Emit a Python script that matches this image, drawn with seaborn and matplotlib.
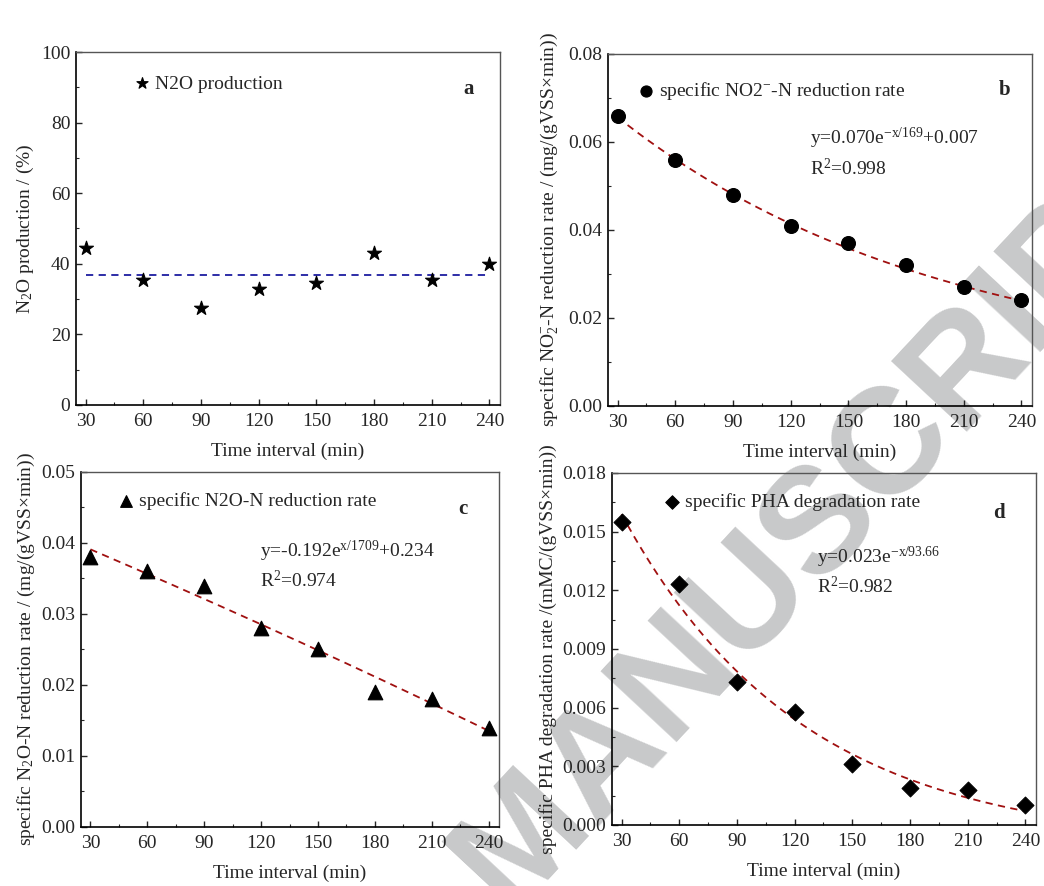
import numpy as np
import pandas as pd
import seaborn as sns
import matplotlib.pyplot as plt
from matplotlib.ticker import MultipleLocator, FormatStrFormatter

# data
time = [30, 60, 90, 120, 150, 180, 210, 240]
n2o_prod = [44.5, 35.5, 27.5, 33.0, 34.5, 43.0, 35.5, 40.0]
n2o_mean = 36.7
no2_rate = [0.066, 0.056, 0.048, 0.041, 0.037, 0.032, 0.027, 0.024]
n2o_rate = [0.038, 0.036, 0.034, 0.028, 0.025, 0.019, 0.018, 0.014]
pha_rate = [0.0155, 0.0123, 0.0073, 0.0058, 0.0031, 0.0019, 0.0018, 0.0010]

# fitted curves: y = A*exp(x/t) + c
fit_b = (0.070, -169.0, 0.007)
fit_c = (-0.192, 1709.0, 0.2345)
fit_d = (0.0234, -93.66, -0.0011)

sns.set_style("ticks")
plt.rcParams["font.family"] = ["Liberation Serif", "DejaVu Serif"]
plt.rcParams["mathtext.fontset"] = "custom"
plt.rcParams["mathtext.rm"] = "Liberation Serif"
plt.rcParams["mathtext.it"] = "Liberation Serif:italic"
plt.rcParams["font.size"] = 14

fig = plt.figure(figsize=(10.44, 8.86), dpi=100)

# watermark behind the axes
fig.text(0.46, 0.0, "MANUSCRIPT", fontsize=108, fontweight="bold",
         family="Liberation Sans", color="#c8c9ca", rotation=47,
         rotation_mode="anchor", ha="left", va="center", zorder=-1)

ax_a = fig.add_axes([0.0728, 0.5429, 0.4061, 0.3984])
ax_b = fig.add_axes([0.5824, 0.5418, 0.4061, 0.3973])
ax_c = fig.add_axes([0.0776, 0.0666, 0.4004, 0.4007])
ax_d = fig.add_axes([0.5862, 0.0689, 0.4061, 0.3973])

xfit = np.linspace(30, 240, 200)


def style_axes(ax, ymax, ystep, yminor, fmt):
    ax.set_facecolor("none")
    ax.set_xlim(25, 245.5)
    ax.set_ylim(0, ymax)
    ax.xaxis.set_major_locator(MultipleLocator(30))
    ax.xaxis.set_minor_locator(MultipleLocator(15))
    ax.yaxis.set_major_locator(MultipleLocator(ystep))
    ax.yaxis.set_minor_locator(MultipleLocator(yminor))
    ax.yaxis.set_major_formatter(FormatStrFormatter(fmt))
    ax.tick_params(which="major", direction="in", length=4, width=1, labelsize=14, pad=4)
    ax.tick_params(axis="x", which="major", pad=6)
    ax.tick_params(which="minor", direction="in", length=2, width=0.8)
    for s in ["left", "bottom"]:
        ax.spines[s].set_linewidth(1.2)
        ax.spines[s].set_color("black")
    for s in ["top", "right"]:
        ax.spines[s].set_linewidth(1.0)
        ax.spines[s].set_color("#555555")
    ax.set_xlabel("Time interval (min)", fontsize=14, labelpad=9)


def legend_at(ax, x, y):
    ax.legend(loc="upper left", bbox_to_anchor=(x, y), frameon=False,
              handlelength=0.8, handletextpad=0.25, borderpad=0, borderaxespad=0,
              markerscale=0.8, fontsize=14)


# a
df_a = pd.DataFrame({"time": time, "val": n2o_prod})
sns.lineplot(x=[30, 240], y=[n2o_mean, n2o_mean], ax=ax_a, color="#1c1ca0",
             linestyle=(0, (4, 3)), linewidth=1.3)
sns.scatterplot(data=df_a, x="time", y="val", ax=ax_a, marker="*", s=110,
                color="black", edgecolor="black", label="N2O production", zorder=3)
style_axes(ax_a, 100, 20, 10, "%d")
ax_a.set_ylabel("N$_2$O production / (%)", fontsize=14, labelpad=4)
legend_at(ax_a, 0.138, 0.935)
ax_a.text(0.927, 0.895, "a", transform=ax_a.transAxes, fontsize=15,
          fontweight="bold", ha="center", va="center")

# b
df_b = pd.DataFrame({"time": time, "val": no2_rate})
sns.lineplot(x=xfit, y=fit_b[0] * np.exp(xfit / fit_b[1]) + fit_b[2], ax=ax_b,
             color="#a01010", linestyle=(0, (4, 3)), linewidth=1.3)
sns.scatterplot(data=df_b, x="time", y="val", ax=ax_b, marker="o", s=100,
                color="black", edgecolor="black",
                label="specific NO2$^{-}$-N reduction rate", zorder=3)
style_axes(ax_b, 0.08, 0.02, 0.01, "%.2f")
ax_b.set_ylabel("specific NO$_2^{-}$-N reduction rate / (mg/(gVSS\u00d7min))",
                fontsize=14, labelpad=6)
legend_at(ax_b, 0.072, 0.925)
ax_b.text(0.936, 0.898, "b", transform=ax_b.transAxes, fontsize=15,
          fontweight="bold", ha="center", va="center")
ax_b.text(0.476, 0.761, "y=0.070e$^{\\mathrm{-x/169}}$+0.007", transform=ax_b.transAxes,
          fontsize=14, ha="left", va="center")
ax_b.text(0.476, 0.676, "R$^{2}$=0.998", transform=ax_b.transAxes,
          fontsize=14, ha="left", va="center")

# c
df_c = pd.DataFrame({"time": time, "val": n2o_rate})
sns.lineplot(x=xfit, y=fit_c[0] * np.exp(xfit / fit_c[1]) + fit_c[2], ax=ax_c,
             color="#a01010", linestyle=(0, (4, 3)), linewidth=1.3)
sns.scatterplot(data=df_c, x="time", y="val", ax=ax_c, marker="^", s=110,
                color="black", edgecolor="black",
                label="specific N2O-N reduction rate", zorder=3)
style_axes(ax_c, 0.05, 0.01, 0.005, "%.2f")
ax_c.set_ylabel("specific N$_2$O-N reduction rate / (mg/(gVSS\u00d7min))",
                fontsize=14, labelpad=3)
legend_at(ax_c, 0.09, 0.943)
ax_c.text(0.914, 0.896, "c", transform=ax_c.transAxes, fontsize=15,
          fontweight="bold", ha="center", va="center")
ax_c.text(0.428, 0.775, "y=-0.192e$^{\\mathrm{x/1709}}$+0.234", transform=ax_c.transAxes,
          fontsize=14, ha="left", va="center")
ax_c.text(0.428, 0.693, "R$^{2}$=0.974", transform=ax_c.transAxes,
          fontsize=14, ha="left", va="center")

# d
df_d = pd.DataFrame({"time": time, "val": pha_rate})
sns.lineplot(x=xfit, y=fit_d[0] * np.exp(xfit / fit_d[1]) + fit_d[2], ax=ax_d,
             color="#a01010", linestyle=(0, (4, 3)), linewidth=1.3)
sns.scatterplot(data=df_d, x="time", y="val", ax=ax_d, marker="D", s=75,
                color="black", edgecolor="black",
                label="specific PHA degradation rate", zorder=3)
style_axes(ax_d, 0.018, 0.003, 0.0015, "%.3f")
ax_d.set_ylabel("specific PHA degradation rate /(mMC/(gVSS\u00d7min))",
                fontsize=14, labelpad=4)
legend_at(ax_d, 0.123, 0.943)
ax_d.text(0.913, 0.886, "d", transform=ax_d.transAxes, fontsize=15,
          fontweight="bold", ha="center", va="center")
ax_d.text(0.483, 0.759, "y=0.023e$^{\\mathrm{-x/93.66}}$", transform=ax_d.transAxes,
          fontsize=14, ha="left", va="center")
ax_d.text(0.483, 0.676, "R$^{2}$=0.982", transform=ax_d.transAxes,
          fontsize=14, ha="left", va="center")

fig.savefig("out.png", dpi=100)
